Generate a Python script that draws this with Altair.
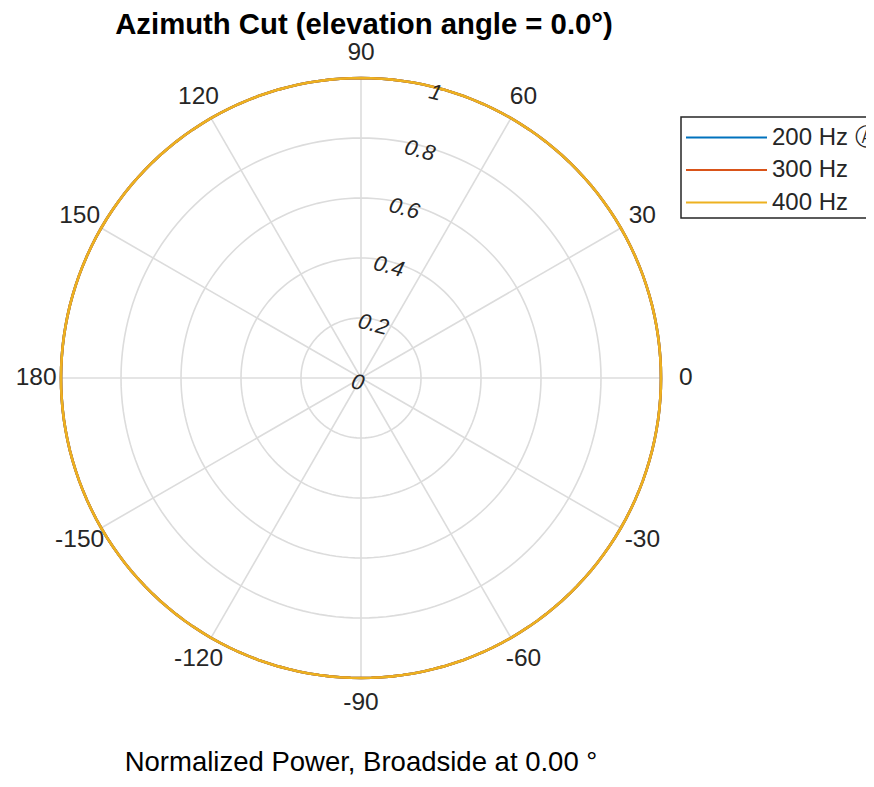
import altair as alt
import pandas as pd

# ---------------- data ----------------
series_names = ["200 Hz", "300 Hz", "400 Hz"]
legend_labels = ["200 Hz Ⓐ", "300 Hz", "400 Hz"]
series_colors = ["#0072BD", "#D95319", "#EDB120"]

azimuth_deg = list(range(-180, 181, 2))
power_200 = [1.0] * len(azimuth_deg)   # normalized power (isotropic)
power_300 = [1.0] * len(azimuth_deg)
power_400 = [1.0] * len(azimuth_deg)

ring_values = [0.2, 0.4, 0.6, 0.8, 1.0]
radial_tick_values = [0, 0.2, 0.4, 0.6, 0.8, 1.0]
radial_tick_labels = ["0", "0.2", "0.4", "0.6", "0.8", "1"]
spoke_angles = [0, 30, 60, 90, 120, 150, 180, 210, 240, 270, 300, 330]
angle_tick_values = [0, 30, 60, 90, 120, 150, 180, 210, 240, 270, 300, 330]
angle_tick_labels = ["0", "30", "60", "90", "120", "150", "180",
                     "-150", "-120", "-90", "-60", "-30"]
title_text = "Azimuth Cut (elevation angle = 0.0°)"
caption_text = "Normalized Power, Broadside at 0.00 °"

# ---------------- layout ----------------
W, H = 858, 771
CX, CY, R = 353, 370, 300.0
FONT = "Liberation Sans"
LABEL_R = 1.083
RADIAL_LABEL_ANGLE = 75

xs = alt.Scale(domain=[-CX / R, (W - CX) / R], nice=False, zero=False)
ys = alt.Scale(domain=[-(H - CY) / R, CY / R], nice=False, zero=False)

X = alt.X("x:Q", scale=xs, axis=None)
Y = alt.Y("y:Q", scale=ys, axis=None)

polar_x = "datum.r * cos(datum.az * PI / 180)"
polar_y = "datum.r * sin(datum.az * PI / 180)"

# grid rings
grid_az = list(range(0, 361, 2))
grid_df = pd.DataFrame([(r, a) for r in ring_values for a in grid_az], columns=["r", "az"])
rings = (
    alt.Chart(grid_df)
    .transform_calculate(x=polar_x, y=polar_y)
    .mark_line(color="#dcdcdc", strokeWidth=1.6)
    .encode(x=X, y=Y, detail="r:N", order="az:Q")
)

# spokes
spokes = (
    alt.Chart(pd.DataFrame({"az": spoke_angles}))
    .transform_calculate(x0="0", y0="0",
                         x1="cos(datum.az * PI / 180)", y1="sin(datum.az * PI / 180)")
    .mark_rule(color="#dcdcdc", strokeWidth=1.6)
    .encode(x=alt.X("x0:Q", scale=xs, axis=None), y=alt.Y("y0:Q", scale=ys, axis=None),
            x2="x1:Q", y2="y1:Q")
)

# pattern lines: one layer per series so the last (400 Hz) is drawn on top
color_scale = alt.Scale(domain=series_names, range=series_colors)
pattern_layers = []
for name, vals in zip(series_names, [power_200, power_300, power_400]):
    df = pd.DataFrame({"series": name, "az": azimuth_deg, "r": vals})
    pattern_layers.append(
        alt.Chart(df)
        .transform_calculate(x=polar_x, y=polar_y)
        .mark_line(strokeWidth=2.6)
        .encode(x=X, y=Y, color=alt.Color("series:N", scale=color_scale, legend=None),
                order="az:Q")
    )

# angle tick labels
ang_df = pd.DataFrame({"az": angle_tick_values, "label": angle_tick_labels})
angle_labels = (
    alt.Chart(ang_df)
    .transform_calculate(x=f"{LABEL_R} * cos(datum.az * PI / 180)",
                         y=f"{LABEL_R} * sin(datum.az * PI / 180)")
    .mark_text(font=FONT, fontSize=24.5, color="#262626", align="center", baseline="middle")
    .encode(x=X, y=Y, text="label:N")
)

# radial tick labels
rad_df = pd.DataFrame({"r": radial_tick_values, "label": radial_tick_labels})
radial_labels = (
    alt.Chart(rad_df)
    .transform_calculate(x=f"datum.r * cos({RADIAL_LABEL_ANGLE} * PI / 180)",
                         y=f"datum.r * sin({RADIAL_LABEL_ANGLE} * PI / 180)")
    .mark_text(font=FONT, fontSize=22, fontStyle="italic", color="#262626",
               align="center", baseline="middle", angle=15, dx=-2, dy=5)
    .encode(x=X, y=Y, text="label:N")
)

# title and caption
one = pd.DataFrame({"k": [0]})
title = (
    alt.Chart(one)
    .mark_text(font=FONT, fontSize=29.3, fontWeight="bold", color="#000000",
               align="center", baseline="middle")
    .encode(x=alt.value(356), y=alt.value(17), text=alt.value(title_text))
)
caption = (
    alt.Chart(one)
    .mark_text(font=FONT, fontSize=27.5, color="#000000", align="center", baseline="alphabetic")
    .encode(x=alt.value(353), y=alt.value(763), text=alt.value(caption_text))
)

# legend
legend_box = (
    alt.Chart(one)
    .mark_rect(fill="white", stroke="#262626", strokeWidth=1.5)
    .encode(x=alt.value(673), x2=alt.value(920), y=alt.value(109), y2=alt.value(210))
)
leg_df = pd.DataFrame({"series": series_names, "label": legend_labels,
                       "row": list(range(len(series_names)))})
leg_y = f"({CY} - (129.5 + 32.5 * datum.row)) / {R}"
legend_lines = (
    alt.Chart(leg_df)
    .transform_calculate(y=leg_y)
    .mark_rule(strokeWidth=2)
    .encode(x=alt.value(678), x2=alt.value(759), y=Y,
            color=alt.Color("series:N", scale=color_scale, legend=None))
)
legend_text = (
    alt.Chart(leg_df)
    .transform_calculate(y=leg_y)
    .mark_text(font=FONT, fontSize=24, color="#262626", align="left", baseline="middle")
    .encode(x=alt.value(764), y=Y, text="label:N")
)

chart = (
    alt.layer(rings, spokes, *pattern_layers, angle_labels, radial_labels, title, caption,
              legend_box, legend_lines, legend_text)
    .properties(width=W, height=H, autosize=alt.AutoSizeParams(type="none"), padding=0)
    .configure_view(stroke=None)
)

chart.save("out.html", embed_options={"renderer": "svg", "actions": False})
